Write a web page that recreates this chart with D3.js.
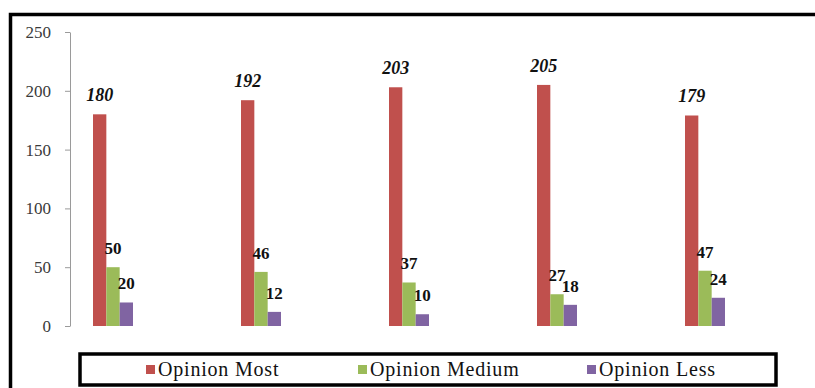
<!DOCTYPE html>
<html>
<head>
<meta charset="utf-8">
<script src="https://cdn.jsdelivr.net/npm/d3@7"></script>
<style>
  body { margin: 0; background: #fff; }
  svg { display: block; }
</style>
</head>
<body>
<div id="chart"></div>
<script>
var svgWidth = 815;
var svgHeight = 388;

// data
var categories = ["G1", "G2", "G3", "G4", "G5"];
var seriesNames = ["Opinion Most", "Opinion Medium", "Opinion Less"];
var opinionMost = [180, 192, 203, 205, 179];
var opinionMedium = [50, 46, 37, 27, 47];
var opinionLess = [20, 12, 10, 18, 24];
var yTicks = [0, 50, 100, 150, 200, 250];
var colors = ["#C0504D", "#9BBB59", "#8064A2"];

var seriesValues = [opinionMost, opinionMedium, opinionLess];

var svg = d3
  .select("#chart")
  .append("svg")
  .attr("width", svgWidth)
  .attr("height", svgHeight);

// outer frame, cut off at right and bottom
svg
  .append("path")
  .attr("d", "M10.5,400 L10.5,14.5 L830,14.5")
  .attr("fill", "none")
  .attr("stroke", "#000")
  .attr("stroke-width", 3.5);

var x0 = d3.scaleBand().domain(categories).range([39, 779]).padding(0);
var x1 = d3
  .scaleBand()
  .domain(seriesNames)
  .range([x0.bandwidth() / 2 - 20, x0.bandwidth() / 2 + 20]);

var y = d3.scaleLinear().domain([0, 250]).range([326, 32]);

// y axis
var yAxis = svg
  .append("g")
  .attr("transform", "translate(70,0)")
  .call(d3.axisLeft(y).tickValues(yTicks).tickSize(5).tickSizeOuter(0).tickPadding(14));

yAxis.select(".domain").attr("stroke", "#9a9a9a");
yAxis.selectAll(".tick line").attr("stroke", "#9a9a9a");
yAxis
  .selectAll(".tick text")
  .attr("font-family", "Liberation Serif")
  .attr("font-size", 17)
  .attr("fill", "#3a3a3a");

// bars
var groups = svg
  .append("g")
  .selectAll("g")
  .data(categories)
  .enter()
  .append("g")
  .attr("transform", (d) => `translate(${x0(d)},0)`);

var barData = (d, i) =>
  seriesNames.map((s, j) => ({ series: s, idx: j, value: seriesValues[j][i] }));

groups
  .selectAll("rect")
  .data(barData)
  .enter()
  .append("rect")
  .attr("x", (d) => x1(d.series))
  .attr("y", (d) => y(d.value))
  .attr("width", x1.bandwidth())
  .attr("height", (d) => y(0) - y(d.value))
  .attr("fill", (d) => colors[d.idx]);

groups
  .selectAll("text")
  .data(barData)
  .enter()
  .append("text")
  .attr("x", (d) => x1(d.series) + x1.bandwidth() / 2)
  .attr("y", (d) => y(d.value) - 13)
  .attr("text-anchor", "middle")
  .attr("font-family", "Liberation Serif")
  .attr("font-weight", "bold")
  .attr("font-style", (d) => (d.idx === 0 ? "italic" : "normal"))
  .attr("font-size", (d) => (d.idx === 0 ? 18 : 17))
  .attr("fill", "#111")
  .text((d) => d.value);

// legend
svg
  .append("rect")
  .attr("x", 80)
  .attr("y", 354)
  .attr("width", 696)
  .attr("height", 31)
  .attr("fill", "#fff")
  .attr("stroke", "#000")
  .attr("stroke-width", 3.5);

var legendX = [146, 358, 587];
var legend = svg
  .append("g")
  .selectAll("g")
  .data(seriesNames)
  .enter()
  .append("g")
  .attr("transform", (d, i) => `translate(${legendX[i]},0)`);

legend
  .append("rect")
  .attr("x", 0)
  .attr("y", 365)
  .attr("width", 9)
  .attr("height", 9)
  .attr("fill", (d, i) => colors[i]);

legend
  .append("text")
  .attr("x", 12)
  .attr("y", 376)
  .attr("font-family", "Liberation Serif")
  .attr("font-size", 20)
  .attr("letter-spacing", 0.8)
  .attr("fill", "#111")
  .text((d) => d);
</script>
</body>
</html>
